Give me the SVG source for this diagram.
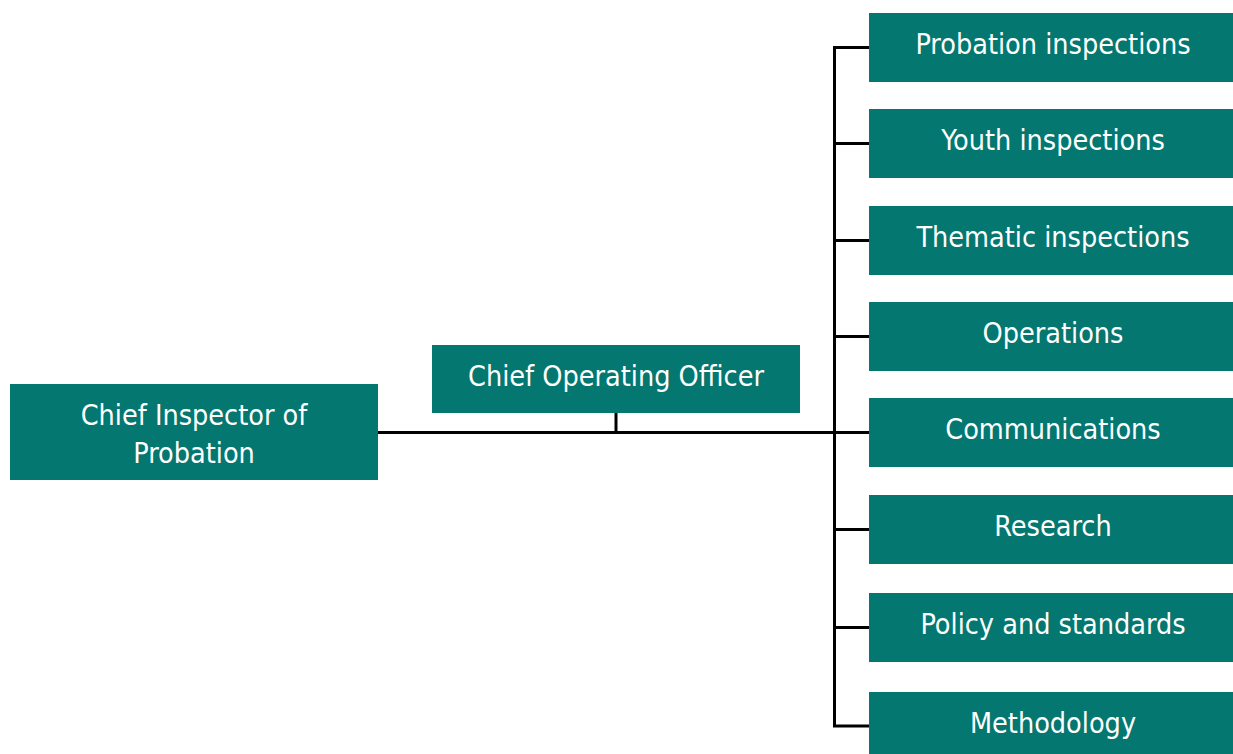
<svg xmlns="http://www.w3.org/2000/svg" width="1233" height="754" viewBox="0 0 1233 754">
  <style>
    .box { fill: #037770; }
    .lbl { font-family: "DejaVu Sans Condensed", "DejaVu Sans", sans-serif; font-stretch: condensed; font-size: 28.5px; fill: #ffffff; text-anchor: middle; }
    .wire { fill: none; stroke: #000000; stroke-width: 3; }
  </style>

  <!-- connectors -->
  <g id="connectors">
    <path class="wire" d="M378 432.5 H834.5"/>
    <path class="wire" d="M616 413 V432.5"/>
    <path class="wire" d="M869 47.5 H834.5 V726 H869"/>
    <path class="wire" d="M834.5 143.5 H869"/>
    <path class="wire" d="M834.5 240.5 H869"/>
    <path class="wire" d="M834.5 336.5 H869"/>
    <path class="wire" d="M834.5 432.5 H869"/>
    <path class="wire" d="M834.5 529.5 H869"/>
    <path class="wire" d="M834.5 627.5 H869"/>
  </g>

  <g id="chief-inspector">
    <rect class="box" x="10" y="384" width="368" height="96"/>
    <text class="lbl" x="194" y="425">Chief Inspector of</text>
    <text class="lbl" x="194" y="463">Probation</text>
  </g>

  <g id="chief-operating-officer">
    <rect class="box" x="432" y="345" width="368" height="68"/>
    <text class="lbl" x="616" y="386">Chief Operating Officer</text>
  </g>

  <g id="probation-inspections">
    <rect class="box" x="869" y="13" width="364" height="69"/>
    <text class="lbl" x="1053" y="54">Probation inspections</text>
  </g>

  <g id="youth-inspections">
    <rect class="box" x="869" y="109" width="364" height="69"/>
    <text class="lbl" x="1053" y="150">Youth inspections</text>
  </g>

  <g id="thematic-inspections">
    <rect class="box" x="869" y="206" width="364" height="69"/>
    <text class="lbl" x="1053" y="247">Thematic inspections</text>
  </g>

  <g id="operations">
    <rect class="box" x="869" y="302" width="364" height="69"/>
    <text class="lbl" x="1053" y="343">Operations</text>
  </g>

  <g id="communications">
    <rect class="box" x="869" y="398" width="364" height="69"/>
    <text class="lbl" x="1053" y="439">Communications</text>
  </g>

  <g id="research">
    <rect class="box" x="869" y="495" width="364" height="69"/>
    <text class="lbl" x="1053" y="536">Research</text>
  </g>

  <g id="policy-and-standards">
    <rect class="box" x="869" y="593" width="364" height="69"/>
    <text class="lbl" x="1053" y="634">Policy and standards</text>
  </g>

  <g id="methodology">
    <rect class="box" x="869" y="692" width="364" height="62"/>
    <text class="lbl" x="1053" y="733">Methodology</text>
  </g>
</svg>
